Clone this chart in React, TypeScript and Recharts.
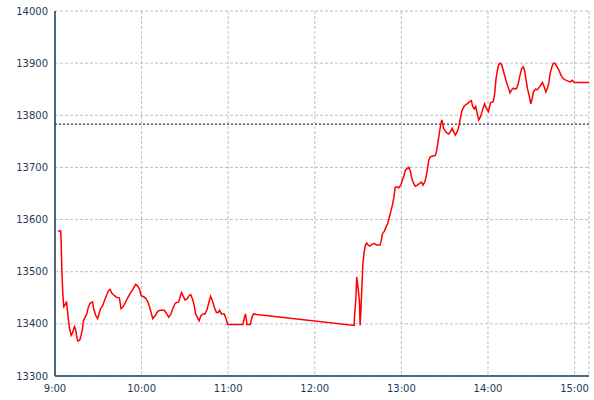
import React from 'react';
import { LineChart, Line, XAxis, YAxis, CartesianGrid, ReferenceLine } from 'recharts';

// minutes after 9:00
const minutes = [
  2.0, 4.0, 4.3, 4.7, 5.4, 6.1, 7.3, 8.0, 8.4, 9.3, 10.0, 11.2, 12.3, 13.5, 14.2, 14.9, 15.8, 17.2, 18.1, 19.0,
  19.7, 20.9, 22.0, 23.2, 24.4, 26.0, 26.8, 28.2, 29.6, 30.6, 31.5, 33.1, 34.3, 35.6, 37.0, 38.2, 39.3, 41.2, 42.6, 44.6,
  45.3, 45.8, 47.2, 48.6, 50.4, 52.2, 54.1, 55.9, 56.9, 58.5, 59.7, 61.5, 63.1, 64.7, 66.6, 67.7, 69.5, 71.1, 73.0, 75.8,
  77.2, 78.8, 80.4, 81.8, 83.4, 85.7, 86.8, 87.7, 88.7, 90.1, 91.5, 92.9, 94.0, 95.2, 96.5, 97.4, 98.8, 99.8, 101.2, 102.6,
  103.9, 105.3, 106.7, 107.8, 109.0, 110.4, 111.8, 113.1, 114.0, 115.4, 117.3, 118.5, 119.6, 130.2, 131.3, 132.0, 133.0, 135.3, 136.5, 137.6,
  139.9, 207.3, 207.5, 208.4, 209.1, 209.8, 210.9, 211.4, 211.9, 212.6, 213.3, 214.2, 215.1, 216.0, 217.1, 218.3, 219.7, 221.1, 222.9, 225.2,
  226.1, 226.8, 228.2, 229.4, 230.6, 231.7, 232.9, 233.8, 234.8, 235.7, 236.8, 238.2, 239.6, 240.7, 241.9, 242.8, 244.2, 245.3, 246.3, 247.2,
  248.4, 249.7, 251.1, 252.5, 253.9, 255.0, 256.2, 257.1, 258.0, 259.0, 259.9, 261.8, 263.6, 264.5, 265.5, 266.4, 267.4, 268.1, 269.2, 271.1,
  272.7, 273.9, 275.3, 276.2, 277.4, 278.6, 279.7, 280.9, 282.0, 283.6, 285.5, 287.3, 288.5, 289.4, 290.6, 291.5, 292.5, 293.6, 294.8, 295.9,
  297.6, 298.9, 300.3, 301.7, 303.6, 304.7, 305.5, 306.4, 307.4, 308.3, 309.5, 310.6, 311.8, 313.0, 314.0, 315.3, 316.5, 317.6, 318.8, 319.9,
  321.1, 322.2, 323.4, 324.5, 325.5, 326.4, 327.3, 328.7, 329.7, 330.6, 331.5, 332.9, 334.3, 335.6, 336.6, 337.7, 338.9, 340.1, 341.2, 342.2,
  343.1, 344.3, 345.4, 346.6, 347.8, 349.2, 350.6, 351.9, 353.5, 355.1, 357.0, 358.4, 360.0, 370.0,
];

const prices = [
  13578, 13578, 13554, 13506, 13458, 13433, 13438, 13443, 13431, 13408, 13392, 13378, 13384, 13395, 13390, 13378, 13367, 13369, 13378, 13390,
  13406, 13413, 13419, 13433, 13440, 13442, 13429, 13416, 13410, 13420, 13429, 13435, 13445, 13454, 13463, 13466, 13459, 13454, 13451, 13450,
  13438, 13429, 13433, 13440, 13450, 13459, 13467, 13476, 13474, 13467, 13454, 13452, 13448, 13440, 13422, 13410, 13416, 13424, 13426, 13426,
  13420, 13413, 13419, 13431, 13440, 13442, 13453, 13460, 13454, 13446, 13448, 13454, 13456, 13448, 13435, 13419, 13412, 13406, 13416, 13419,
  13419, 13427, 13442, 13453, 13445, 13432, 13422, 13422, 13426, 13419, 13419, 13410, 13399, 13399, 13413, 13419, 13399, 13399, 13413, 13419,
  13418, 13397, 13413, 13445, 13490, 13474, 13445, 13397, 13422, 13467, 13514, 13538, 13551, 13555, 13551, 13549, 13553, 13554, 13551, 13551,
  13560, 13572, 13578, 13586, 13593, 13605, 13618, 13628, 13642, 13662, 13663, 13661, 13666, 13676, 13685, 13695, 13698, 13700, 13692, 13679,
  13670, 13664, 13666, 13669, 13672, 13666, 13672, 13682, 13696, 13714, 13720, 13722, 13723, 13733, 13751, 13767, 13785, 13791, 13775, 13767,
  13764, 13768, 13775, 13768, 13762, 13768, 13778, 13794, 13809, 13818, 13822, 13826, 13828, 13817, 13812, 13817, 13804, 13791, 13797, 13807,
  13822, 13813, 13807, 13824, 13826, 13842, 13868, 13884, 13897, 13900, 13897, 13886, 13874, 13862, 13854, 13843, 13849, 13852, 13850, 13852,
  13862, 13877, 13890, 13893, 13884, 13868, 13852, 13836, 13822, 13831, 13845, 13850, 13849, 13854, 13858, 13863, 13855, 13845, 13852, 13862,
  13881, 13893, 13900, 13899, 13893, 13886, 13877, 13871, 13868, 13866, 13864, 13867, 13863, 13863,
];

const previousClose = 13783;
const timeTicks = [0, 60, 120, 180, 240, 300, 360];
const priceTicks = [13300, 13400, 13500, 13600, 13700, 13800, 13900, 14000];

const data = minutes.map((t, i) => ({ t, price: prices[i] }));

const fmtTime = (m: number) => {
  const h = 9 + Math.floor(m / 60);
  const mm = m % 60;
  return `${h}:${mm < 10 ? '0' : ''}${mm}`;
};

const tickStyle = { fontFamily: 'DejaVu Sans', fontSize: 10, fill: '#1f3a56' };

export default function App() {
  return (
    <div style={{ position: 'absolute', left: 0, top: 0, background: '#fff' }}>
      <LineChart width={594} height={400} data={data} margin={{ top: 11, right: 5, bottom: 0, left: 0 }}>
        <CartesianGrid stroke="#b8c0d0" strokeDasharray="3 2" />
        <XAxis
          type="number"
          dataKey="t"
          domain={[0, 370]}
          ticks={timeTicks}
          tickFormatter={fmtTime}
          height={24}
          tickSize={0}
          tickMargin={9}
          tick={tickStyle}
          stroke="#1f3a56"
          strokeWidth={1.5}
          allowDataOverflow
        />
        <YAxis
          type="number"
          domain={[13300, 14000]}
          ticks={priceTicks}
          width={55}
          tickSize={0}
          tickMargin={7}
          tick={tickStyle}
          stroke="#1f3a56"
          strokeWidth={1.5}
          allowDataOverflow
        />
        <ReferenceLine y={previousClose} stroke="#000" strokeDasharray="2 2" />
        <Line
          type="linear"
          dataKey="price"
          stroke="#ff0000"
          strokeWidth={1.5}
          dot={false}
          isAnimationActive={false}
        />
      </LineChart>
    </div>
  );
}
